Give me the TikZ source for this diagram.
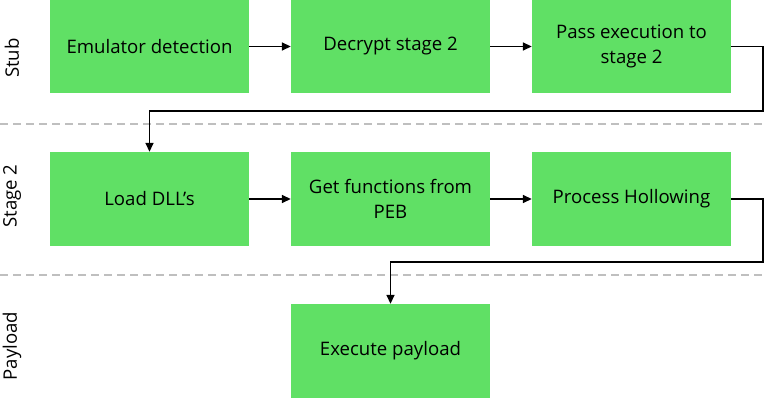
\documentclass[tikz,border=0pt]{standalone}
\usepackage{fontspec}
\setmainfont{Open Sans}
\usetikzlibrary{arrows.meta}
\definecolor{boxgreen}{RGB}{96,224,101}
\definecolor{sepgray}{RGB}{191,191,191}
\begin{document}
\begin{tikzpicture}[x=1pt,y=-1pt,
  font=\fontsize{18.6}{25}\selectfont,
  stepbox/.style={fill=boxgreen, minimum width=199pt, minimum height=94pt, inner sep=0pt, align=center},
  conn/.style={line width=1.6pt, -{Triangle[length=9pt,width=8pt]}},
  sep/.style={sepgray, line width=1.6pt, dash pattern=on 8pt off 5pt},
  lane/.style={rotate=90}]
\useasboundingbox (0,0) rectangle (766,398);
% separators
\coordinate (s1a) at (0,124); \coordinate (s1b) at (766,124);
\coordinate (s2a) at (0,275); \coordinate (s2b) at (766,275);
\draw[sep] (s1a) -- (s1b);
\draw[sep] (s2a) -- (s2b);
% lane labels
\node[lane] (lstub) at (12,58) {Stub};
\node[lane] (lstage) at (12,196) {Stage 2};
\node[lane] (lpay) at (12,346) {Payload};
% boxes
\node[stepbox] (emu) at (149.5,46.5) {Emulator detection};
\node[stepbox] (dec) at (390.5,46.5) {Decrypt stage 2};
\node[stepbox] (pass) at (631.5,46.5) {Pass execution to\\stage 2};
\node[stepbox] (load) at (149.5,199) {Load DLL’s};
\node[stepbox] (getf) at (390.5,199) {Get functions from\\PEB};
\node[stepbox] (proc) at (631.5,199) {Process Hollowing};
\node[stepbox] (exec) at (390.5,351) {Execute payload};
% connectors
\coordinate (t1) at (763,111);
\coordinate (t2) at (763,262);
\draw[conn] (emu.east) -- (dec.west);
\draw[conn] (dec.east) -- (pass.west);
\draw[conn] (pass.east) -| (t1) -| (load.north);
\draw[conn] (load.east) -- (getf.west);
\draw[conn] (getf.east) -- (proc.west);
\draw[conn] (proc.east) -| (t2) -| (exec.north);
\end{tikzpicture}
\end{document}
